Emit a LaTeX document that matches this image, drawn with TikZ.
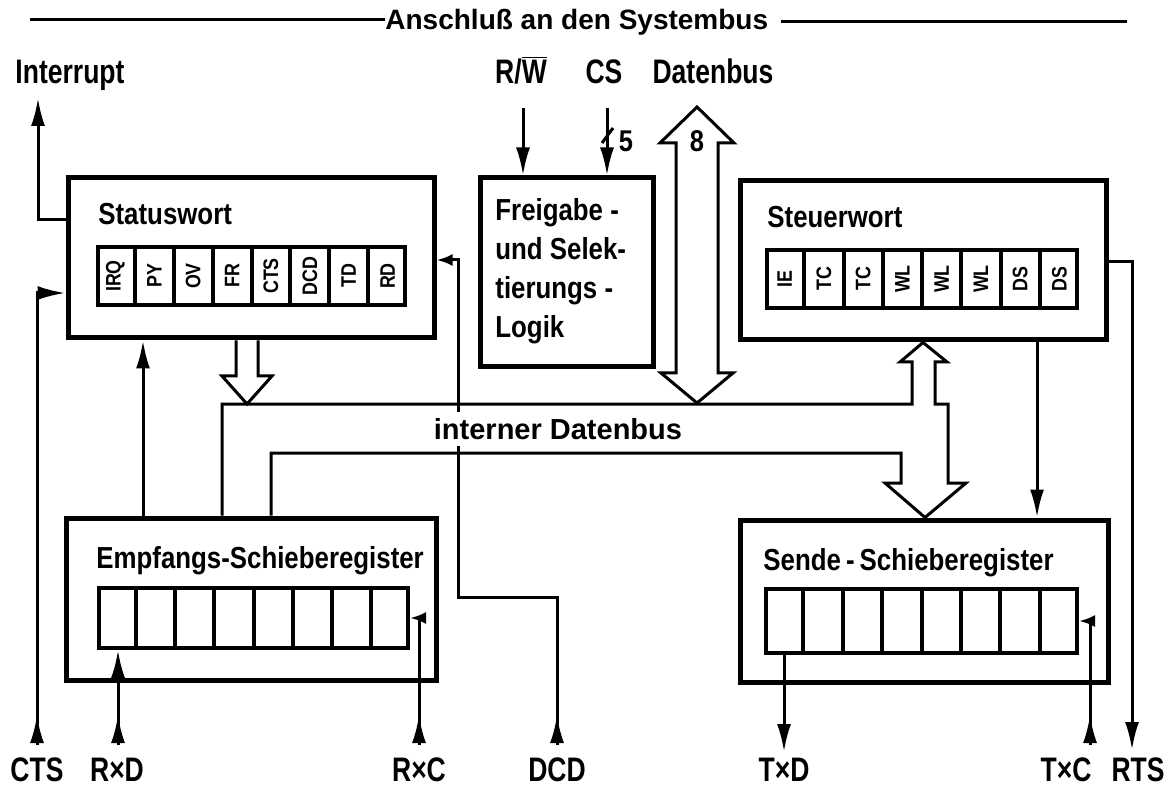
\documentclass[tikz,border=0pt]{standalone}
\usepackage{fontspec}
\setmainfont{Liberation Sans}[FakeStretch=0.85]
\newfontfamily\widefont{Liberation Sans}
\newfontfamily\lblfont{Liberation Sans}[FakeStretch=0.78]
\usetikzlibrary{arrows.meta,calc,decorations.markings}
\begin{document}
\begin{tikzpicture}[x=0.5pt,y=-0.5pt,
  box/.style={draw,line width=2.5pt,inner sep=0pt},
  regbox/.style={draw,line width=2pt,inner sep=0pt},
  divider/.style={line width=2pt},
  wire/.style={line width=1.5pt},
  arr/.style={-{Latex[length=14pt,width=7pt]}},
  sarr/.style={-{Latex[length=8pt,width=6pt]}},
  tipat/.style={postaction={decorate},decoration={markings,mark=at position #1 with {\arrow{Latex[length=14pt,width=7pt]}}}},
  title/.style={font=\fontsize{15.2}{18}\selectfont\bfseries,inner sep=0pt,anchor=base west},
  lbl/.style={font=\lblfont\fontsize{17}{20}\selectfont\bfseries,inner sep=0pt,anchor=base},
  cell/.style={font=\fontsize{10.5}{11}\selectfont\bfseries,rotate=90,inner sep=0pt},
  bus/.style={line width=1.5pt,line join=miter},
]
\fill[white,use as bounding box] (0,0) rectangle (1170,790);

% ---------- top system bus line ----------
\node[font=\widefont\fontsize{14}{16}\selectfont\bfseries,inner sep=0pt,anchor=base west] (sysbus) at (385,30) {Anschluß an den Systembus};
\coordinate (tl) at (30,20);
\coordinate (tr) at (1127,22);
\draw[wire] (tl) -- (sysbus.west |- tl);
\draw[wire] ([xshift=6pt]sysbus.east |- tr) -- (tr);

% ---------- top labels ----------
\node[lbl] (lint) at (70,84) {Interrupt};
\node[lbl] (lrw) at (521,84) {R/$\overline{\hbox{W}}$};
\node[lbl] (lcs) at (604,84) {CS};
\node[lbl] (ldb) at (713,84) {Datenbus};

% ---------- boxes ----------
\node[box,minimum width=183pt,minimum height=80pt] (sw) at (251,258) {};
\node[box,minimum width=86.5pt,minimum height=94.5pt] (logic) at (566.5,272.5) {};
\node[box,minimum width=183pt,minimum height=79.5pt] (cw) at (923,260.5) {};
\node[box,minimum width=185pt,minimum height=81pt] (rx) at (251,599) {};
\node[box,minimum width=184pt,minimum height=81pt] (tx) at (924,601) {};

% titles
\node[title] (tsw) at (98,225) {Statuswort};
\node[title] (tcw) at (767,228) {Steuerwort};
\node[title] (trx) at (96,568) {Empfangs-Schieberegister};
\node[title] (ttx) at (763,570) {Sende\,-\,Schieberegister};
\node[title] (lg1) at (495,221) {Freigabe -};
\node[title] (lg2) at (495,260) {und Selek-};
\node[title] (lg3) at (495,299) {tierungs -};
\node[title] (lg4) at (495,338) {Logik};

% ---------- registers ----------
\node[regbox,minimum width=153.5pt,minimum height=29pt] (swreg) at (251.5,276) {};
\node[regbox,minimum width=155pt,minimum height=29pt] (cwreg) at (922,279) {};
\node[regbox,minimum width=154.5pt,minimum height=30pt] (rxreg) at (253.5,618) {};
\node[regbox,minimum width=155.5pt,minimum height=32pt] (txreg) at (921.5,621) {};
\foreach \r in {swreg,cwreg,rxreg,txreg}{
  \foreach \i in {1,...,7}
    \draw[divider] ($(\r.north west)!\i/8!(\r.north east)$) -- ($(\r.south west)!\i/8!(\r.south east)$);
}
\foreach \t [count=\i, evaluate=\i as \f using (\i-0.5)/8] in {IRQ,PY,OV,FR,CTS,DCD,TD,RD}
  \node[cell] (swc\i) at ($(swreg.west)!\f!(swreg.east)$) {\t};
\foreach \t [count=\i, evaluate=\i as \f using (\i-0.5)/8] in {IE,TC,TC,WL,WL,WL,DS,DS}
  \node[cell] (cwc\i) at ($(cwreg.west)!\f!(cwreg.east)$) {\t};

% ---------- free ends ----------
\coordinate (intTop) at (38,98);
\coordinate (ctsBot) at (37,745);
\coordinate (rxdBot) at (118,745);
\coordinate (rxcBot) at (419,745);
\coordinate (dcdBot) at (557,745);
\coordinate (dcdJog) at (458,597);
\coordinate (txdBot) at (784,752);
\coordinate (txcBot) at (1090,745);
\coordinate (rtsBot) at (1132,750);
\coordinate (rwTop) at (523,108);
\coordinate (csTop) at (607,108);

% ---------- signal wires ----------
\draw[wire,arr] (sw.west |- 0,220) -| (intTop);
\draw[wire,arr,tipat=15pt] (ctsBot) |- (sw.west |- 0,293);
\draw[wire,arr,tipat=15pt] (rxdBot) -- (rxreg.south -| rxdBot);
\draw[wire,sarr,tipat=15pt] (rxcBot) |- (rxreg.east);
\draw[wire,sarr,tipat=15pt] (dcdBot) |- (dcdJog) |- (sw.east |- 0,260);
\draw[wire,arr] (txreg.south -| txdBot) -- (txdBot);
\draw[wire,sarr,tipat=15pt] (txcBot) |- (txreg.east);
\draw[wire,arr] (cw.east |- 0,262) -| (rtsBot);
\draw[wire,arr] (rx.north -| 143,0) -- (sw.south -| 143,0);
\draw[wire,arr] (cw.south -| 1037,0) -- (tx.north -| 1037,0);
\draw[wire,arr] (rwTop) -- (logic.north -| rwTop);
\draw[wire,arr] (csTop) -- (logic.north -| csTop);
\draw[wire] (602,143) -- (613,128);
\node[font=\fontsize{15}{17}\selectfont\bfseries,inner sep=0pt,anchor=base] (n5) at (626,152) {5};

% ---------- internal bus ----------
\node[fill=white,inner xsep=2pt,inner ysep=3pt,font=\widefont\fontsize{14.5}{17}\selectfont\bfseries] (ibus) at (558,429) {interner Datenbus};
\draw[bus,fill=white] (sw.south -| 236,0) -- (236,376) -- (222,376) -- (247,404) -- (272,376) -- (258,376) -- (sw.south -| 258,0);
\draw[bus,fill=white] (676,143) -- (660,143) -- (697,107) -- (734,143) -- (718,143) -- (718,373) -- (733,373) -- (697,403) -- (661,373) -- (676,373) -- cycle;
\node[font=\fontsize{15}{17}\selectfont\bfseries,inner sep=0pt,anchor=base] (n8) at (697,152) {8};
\draw[bus] (rx.north -| 222,0) -- (222,404) -- (912,404) -- (912,362) -- (900,362) -- (cw.south -| 923,0) -- (947,362) -- (935,362) -- (935,404) -- (948,404) -- (948,483) -- (966,483) -- (tx.north -| 925,0) -- (885,483) -- (901,483) -- (901,453) -- (271,453) -- (rx.north -| 271,0);

% ---------- bottom labels ----------
\node[lbl] (bcts) at (37,781) {CTS};
\node[lbl] (brxd) at (117,781) {R×D};
\node[lbl] (brxc) at (419,781) {R×C};
\node[lbl] (bdcd) at (557,781) {DCD};
\node[lbl] (btxd) at (784,781) {T×D};
\node[lbl] (btxc) at (1066,781) {T×C};
\node[lbl] (brts) at (1138,781) {RTS};
\end{tikzpicture}
\end{document}
